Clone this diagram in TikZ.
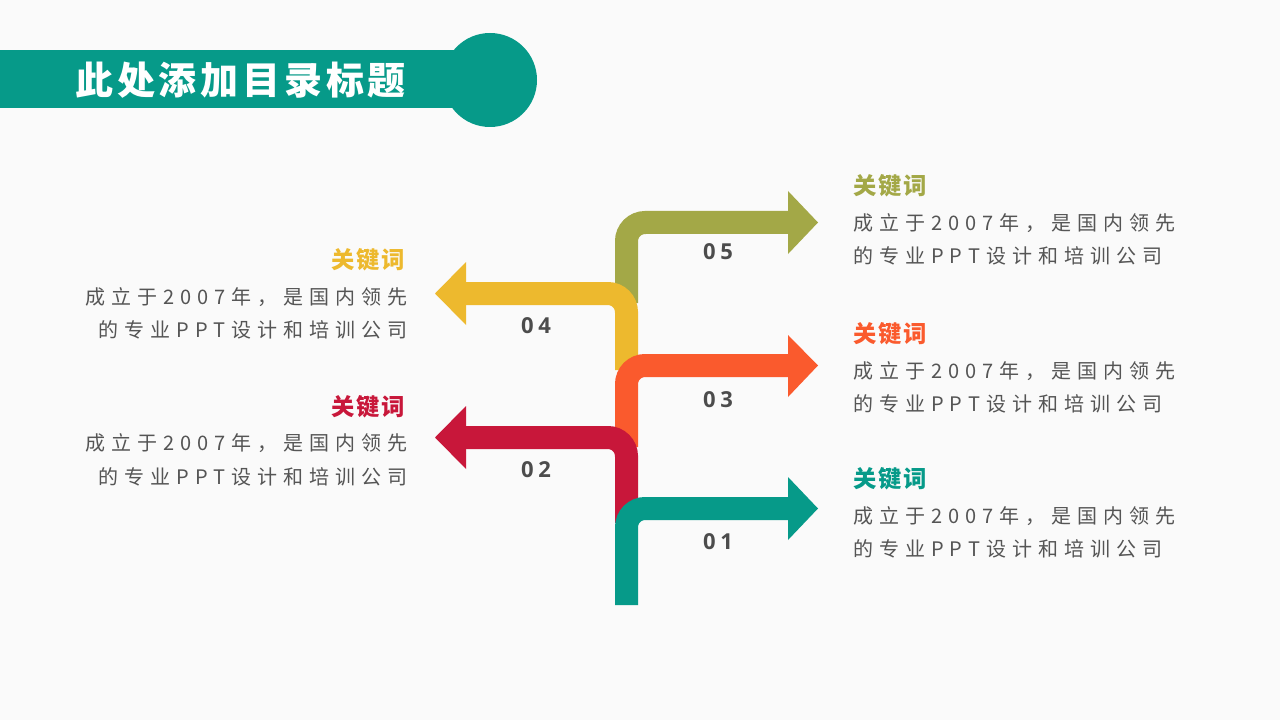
\documentclass[tikz,border=0pt]{standalone}
\usepackage{fontspec}
\newfontfamily\cjk{Noto Sans CJK SC}
\newfontfamily\cjkt[LetterSpace=10]{Noto Sans CJK SC}
\newfontfamily\cjkk[LetterSpace=8]{Noto Sans CJK SC}
\newfontfamily\cjksp[LetterSpace=30]{Noto Sans CJK SC}
\newfontfamily\numf[LetterSpace=22]{Open Sans}
\definecolor{cteal}{HTML}{069A89}
\definecolor{colive}{HTML}{A3A847}
\definecolor{cyel}{HTML}{EDB92E}
\definecolor{corg}{HTML}{FA5A2D}
\definecolor{cred}{HTML}{C8173A}
\definecolor{ctxt}{HTML}{555555}
\begin{document}
\begin{tikzpicture}[x=0.75pt,y=-0.75pt,
  band/.style={line width=17.25pt,rounded corners=14pt},
  num/.style={font=\numf\bfseries\fontsize{16.5}{18}\selectfont,text=black!70},
  kw/.style={font=\cjkk\bfseries\fontsize{17.5}{20}\selectfont,inner sep=0pt},
  body/.style={font=\cjksp\fontsize{15}{18}\selectfont,text=ctxt,inner sep=0pt}]
\useasboundingbox (0,0) rectangle (1280,720);
\fill[black!2] (0,0) rectangle (1280,720);
% title
\fill[cteal] (0,50) rectangle (490,108);
\fill[cteal] (490,80) circle[radius=47];
\node[anchor=west,text=white,inner sep=0pt,font=\cjkt\bfseries\fontsize{28.5}{30}\selectfont] (title) at (75,80) {此处添加目录标题};
% arrows
\draw[band,colive] (626.5,303) -- (626.5,222.5) -- (790,222.5);
\fill[colive] (788,191) -- (818,222.5) -- (788,254) -- cycle;
\draw[band,cyel] (626.5,370) -- (626.5,293.5) -- (464,293.5);
\fill[cyel] (466,262) -- (435,293.5) -- (466,325) -- cycle;
\draw[band,corg] (626.5,447) -- (626.5,365.5) -- (790,365.5);
\fill[corg] (788,335) -- (818,365.5) -- (788,397) -- cycle;
\draw[band,cred] (626.5,523) -- (626.5,437.5) -- (464,437.5);
\fill[cred] (466,406) -- (435,437.5) -- (466,469) -- cycle;
\draw[band,cteal] (626.5,605) -- (626.5,508.5) -- (790,508.5);
\fill[cteal] (788,477) -- (818,508.5) -- (788,540) -- cycle;
% numbers
\node[num] (n5) at (718,252) {05};
\node[num] (n4) at (536,326) {04};
\node[num] (n3) at (718,400) {03};
\node[num] (n2) at (536,470) {02};
\node[num] (n1) at (718,542) {01};
% right texts
\node[kw,anchor=west,text=colive] (k5) at (853,186) {关键词};
\node[body,anchor=west] (b5a) at (853,223) {成立于2007年，是国内领先};
\node[body,anchor=west] (b5b) at (853,256) {的专业PPT设计和培训公司};
\node[kw,anchor=west,text=corg] (k3) at (853,334) {关键词};
\node[body,anchor=west] (b3a) at (853,371) {成立于2007年，是国内领先};
\node[body,anchor=west] (b3b) at (853,404) {的专业PPT设计和培训公司};
\node[kw,anchor=west,text=cteal] (k1) at (853,479) {关键词};
\node[body,anchor=west] (b1a) at (853,516) {成立于2007年，是国内领先};
\node[body,anchor=west] (b1b) at (853,549) {的专业PPT设计和培训公司};
% left texts
\node[kw,anchor=east,text=cyel] (k4) at (405,260) {关键词};
\node[body,anchor=east] (b4a) at (408,297) {成立于2007年，是国内领先};
\node[body,anchor=east] (b4b) at (408,330) {的专业PPT设计和培训公司};
\node[kw,anchor=east,text=cred] (k2) at (405,407) {关键词};
\node[body,anchor=east] (b2a) at (408,443) {成立于2007年，是国内领先};
\node[body,anchor=east] (b2b) at (408,477) {的专业PPT设计和培训公司};
\end{tikzpicture}
\end{document}
